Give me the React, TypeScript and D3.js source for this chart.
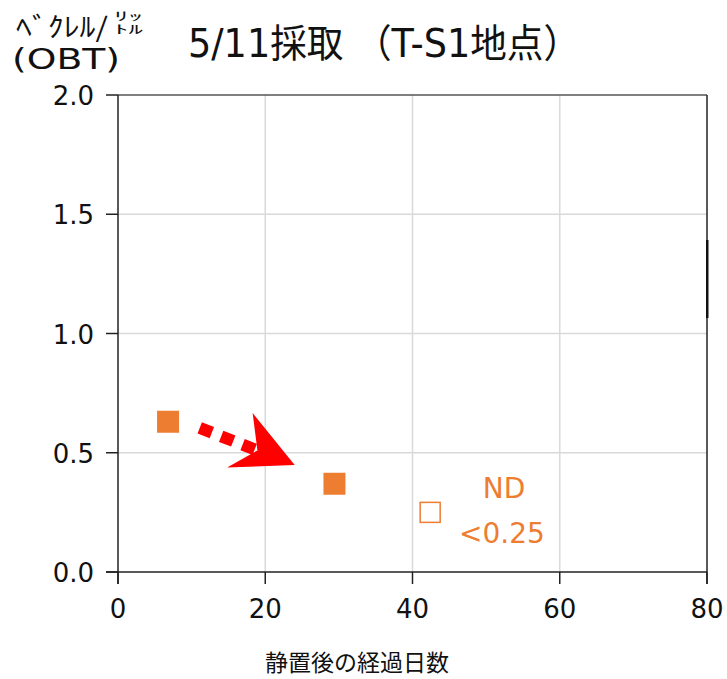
import * as d3 from 'd3'

const days = [6.8, 29.4, 42.4];
const values = [0.63, 0.37, 0.25];
const detected = [true, true, false];

const xTicks = [0, 20, 40, 60, 80];
const yTicks = [0, 0.5, 1.0, 1.5, 2.0];

const arrowFrom = [11.1, 0.604];
const arrowTo = [24.0, 0.449];

function App() {
  const width = 727;
  const height = 679;
  const left = 118;
  const right = 707;
  const top = 95;
  const bottom = 572;
  const orange = '#ED7D31';
  const font = "'DejaVu Sans', 'Noto Sans CJK JP', sans-serif";
  const cjk = "'Noto Sans CJK JP', 'DejaVu Sans', sans-serif";

  const x = d3.scaleLinear().domain([0, 80]).range([left, right]);
  const y = d3.scaleLinear().domain([0, 2]).range([bottom, top]);

  // arrow in pixels
  const x0 = x(arrowFrom[0]), y0 = y(arrowFrom[1]);
  const x1 = x(arrowTo[0]), y1 = y(arrowTo[1]);
  const len = Math.hypot(x1 - x0, y1 - y0);
  const ux = (x1 - x0) / len, uy = (y1 - y0) / len;
  const nx = -uy, ny = ux;
  const pt = (along: number, side: number) =>
    [x1 - ux * along + nx * side, y1 - uy * along + ny * side];
  const head = [pt(0, 0), pt(62, 27), pt(40, 0), pt(58, -33)];
  const notch = pt(40, 0);

  const sq = 22;

  return (
    <svg width={width} height={height} style={{ position: 'absolute', left: 0, top: 0, background: '#fff' }} fontFamily={font}>
      {/* grid */}
      {xTicks.slice(1, -1).map(t => (
        <line key={'gx' + t} x1={x(t)} x2={x(t)} y1={top} y2={bottom} stroke="#d9d9d9" strokeWidth={1.5} />
      ))}
      {yTicks.slice(1, -1).map(t => (
        <line key={'gy' + t} x1={left} x2={right} y1={y(t)} y2={y(t)} stroke="#d9d9d9" strokeWidth={1.5} />
      ))}
      {/* frame */}
      <line x1={left} x2={right} y1={top} y2={top} stroke="#555" strokeWidth={1.5} />
      <line x1={right} x2={right} y1={top} y2={bottom + 12} stroke="#222" strokeWidth={1.5} />
      <rect x={right - 1} y={240} width={2.5} height={78} fill="#111" />
      <line x1={left} x2={left} y1={top} y2={bottom + 12} stroke="#222" strokeWidth={1.5} />
      <line x1={left - 12} x2={right} y1={bottom} y2={bottom} stroke="#222" strokeWidth={1.5} />
      {/* ticks */}
      {xTicks.map(t => (
        <g key={'tx' + t}>
          <line x1={x(t)} x2={x(t)} y1={bottom} y2={bottom + 12} stroke="#222" strokeWidth={1.5} />
          <text x={x(t)} y={bottom + 46} textAnchor="middle" fontSize={26} fill="#111">{t}</text>
        </g>
      ))}
      {yTicks.map(t => (
        <g key={'ty' + t}>
          <line x1={left - 12} x2={left} y1={y(t)} y2={y(t)} stroke="#222" strokeWidth={1.5} />
          <text x={94} y={y(t) + 10} textAnchor="end" fontSize={26} fill="#111">{t.toFixed(1)}</text>
        </g>
      ))}
      {/* points */}
      {days.map((d, i) => detected[i] ? (
        <rect key={'p' + i} x={x(d) - sq / 2} y={y(values[i]) - sq / 2} width={sq} height={sq} fill={orange} />
      ) : (
        <rect key={'p' + i} x={x(d) - 10} y={y(values[i]) - 10} width={20} height={20} fill="#fff" stroke={orange} strokeWidth={1.5} />
      ))}
      {/* arrow */}
      <line x1={x0} y1={y0} x2={notch[0]} y2={notch[1]} stroke="#ff0000" strokeWidth={12} strokeDasharray="13 10" />
      <polygon points={head.map(p => p.join(',')).join(' ')} fill="#ff0000" />
      {/* ND label */}
      <text x={504} y={498} textAnchor="middle" fontSize={28} fill={orange}>ND</text>
      <text x={502} y={543} textAnchor="middle" fontSize={28} fill={orange}>&lt;0.25</text>
      {/* titles */}
      <text x={188} y={57} fontSize={39} fill="#111" textLength={392} lengthAdjust="spacingAndGlyphs">5/11採取 （T-S1地点）</text>
      <text x={16} y={37} fontSize={27} fill="#111" fontFamily={cjk} textLength={92} lengthAdjust="spacingAndGlyphs">ﾍﾞｸﾚﾙ/</text>
      <text fontSize={12} fill="#111" fontFamily={cjk}>
        <tspan x={114} y={21} textLength={29} lengthAdjust="spacingAndGlyphs">ﾘｯ</tspan>
        <tspan x={114} y={34} textLength={29} lengthAdjust="spacingAndGlyphs">ﾄﾙ</tspan>
      </text>
      <text x={12} y={69} fontSize={29} fill="#111" textLength={108} lengthAdjust="spacingAndGlyphs">(OBT)</text>
      <text x={357} y={671} textAnchor="middle" fontSize={23} fill="#111" fontFamily={cjk}>静置後の経過日数</text>
    </svg>
  );
}

export default App;
